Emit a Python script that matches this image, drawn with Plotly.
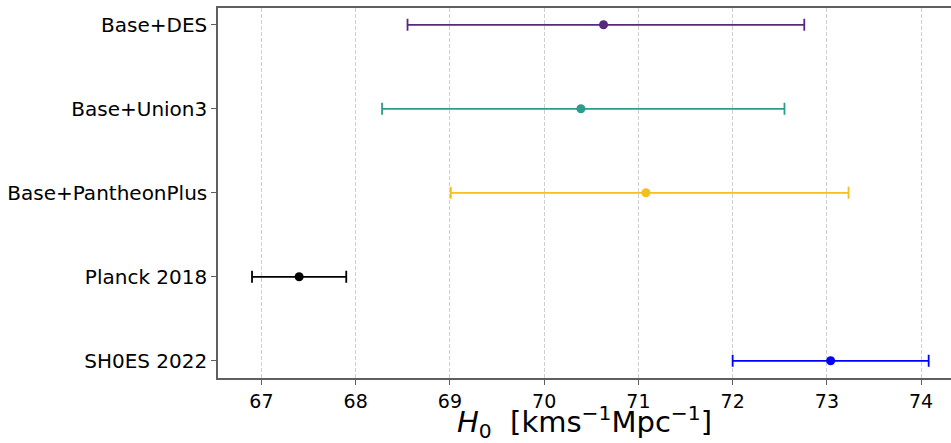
import plotly.graph_objects as go

labels = ["SH0ES 2022", "Planck 2018", "Base+PantheonPlus", "Base+Union3", "Base+DES"]
h0_values = [73.04, 67.40, 71.08, 70.39, 70.63]
err_minus = [1.04, 0.50, 2.07, 2.11, 2.08]
err_plus = [1.04, 0.50, 2.15, 2.16, 2.13]
colors = ["#0000ff", "#000000", "#f4c021", "#2a9d8f", "#57287f"]

x_ticks = [67, 68, 69, 70, 71, 72, 73, 74]

fig = go.Figure()
for lab, v, em, ep, c in zip(labels, h0_values, err_minus, err_plus, colors):
    fig.add_trace(go.Scatter(
        x=[v], y=[lab], mode="markers",
        marker=dict(color=c, size=9),
        error_x=dict(type="data", symmetric=False, array=[ep], arrayminus=[em],
                     color=c, thickness=1.8, width=6),
        showlegend=False,
    ))

fig.update_layout(
    width=951, height=443,
    margin=dict(l=218, r=0, t=8, b=65),
    paper_bgcolor="white", plot_bgcolor="white",
    font=dict(family="DejaVu Sans", size=20, color="black"),
    xaxis=dict(
        range=[66.539, 74.317],
        tickvals=x_ticks, ticktext=[str(t) for t in x_ticks],
        showgrid=True, gridcolor="#cfcfcf", griddash="4px,2px", gridwidth=1,
        zeroline=False,
        showline=True, linecolor="#5f5f5f", linewidth=1.5, mirror=True,
        ticks="outside", ticklen=5, tickcolor="#5f5f5f", tickwidth=1.2,
        tickfont=dict(size=19),
        title=dict(text="<i>H</i><sub>0</sub>  [kms<sup>−1</sup>Mpc<sup>−1</sup>]",
                   font=dict(size=29), standoff=8),
    ),
    yaxis=dict(
        type="category", categoryorder="array", categoryarray=labels,
        range=[-0.205, 4.2],
        showgrid=False, zeroline=False,
        showline=True, linecolor="#5f5f5f", linewidth=1.5, mirror=False,
        ticks="outside", ticklen=5, tickcolor="#5f5f5f", tickwidth=1.2,
        tickfont=dict(size=20),
    ),
)

fig.write_html("out.html", config={"displayModeBar": False},
               post_script="document.body.style.margin='0';document.body.style.overflow='hidden';")
